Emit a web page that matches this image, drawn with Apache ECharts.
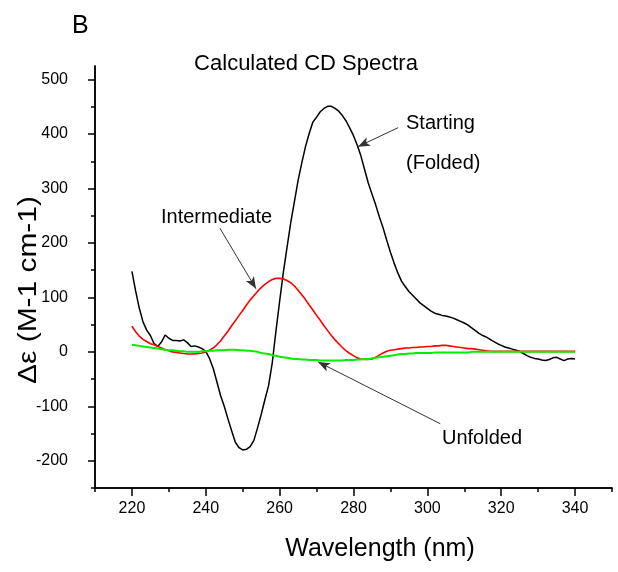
<!DOCTYPE html>
<html>
<head>
<meta charset="utf-8">
<script src="https://cdn.jsdelivr.net/npm/echarts@6/dist/echarts.min.js"></script>
<style>
html,body{margin:0;padding:0;background:#fff;}
#chart{width:618px;height:572px;}
</style>
</head>
<body>
<div id="chart"></div>
<script>
const wavelengths = [220,221,222,223,224,225,226,227,228,229,230,231,232,233,234,235,236,237,238,239,
240,241,242,243,244,245,246,247,248,249,250,251,252,253,254,255,256,257,258,259,
260,261,262,263,264,265,266,267,268,269,270,271,272,273,274,275,276,277,278,279,
280,281,282,283,284,285,286,287,288,289,290,291,292,293,294,295,296,297,298,299,
300,301,302,303,304,305,306,307,308,309,310,311,312,313,314,315,316,317,318,319,
320,321,322,323,324,325,326,327,328,329,330,331,332,333,334,335,336,337,338,339,340];

const starting = [148,112,80,55,40,30,15,10,18,31,25,21,21,20,22,17,10,11,9,6,
1,-12,-30,-55,-80,-100,-123,-145,-166,-176,-180,-179,-174,-163,-140,-115,-88,-62,-20,38,
93,146,192,237,276,315,347,377,401,422,431,441,447,451,451,447,442,434,424,411,
397,380,360,335,310,290,270,248,228,205,183,163,145,130,120,111,104,97,90,85,
80,75,71,69,67,66,64,62,59,56,53,49,44,39,34,30,27,23,19,15,
12,9,7,5,3,1,-3,-7,-10,-12,-13,-15,-16,-14,-11,-10,-13,-16,-13,-12,-13];

const intermediate = [47,37,29,23,19,15,13,10,7,4,2,0,-1,-2,-3,-4,-4,-4,-3,-2,
0,3,7,13,20,29,38,48,57,67,76,86,95,103,111,118,124,129,133,135,
135,134,131,127,121,113,105,96,86,77,67,58,48,39,30,22,15,8,2,-3,
-7,-11,-13,-14,-14,-13,-10,-6,-2,1,3,4,5,6,7,7,8,8,9,9,
10,10,11,11,12,12,11,10,9,8,7,6,6,5,4,3,2,1,1,1,
1,1,1,1,1,1,1,1,1,1,1,1,1,1,1,1,1,1,1,1,1];

const unfolded = [13,12,11,10,9,8,7,6,5,4,3,3,2,1,1,0,0,0,0,1,
1,2,2,3,3,3,4,4,4,3,3,2,2,1,0,-2,-3,-4,-6,-7,
-9,-10,-11,-12,-13,-13,-14,-14,-15,-15,-15,-16,-16,-16,-16,-16,-16,-16,-15,-15,
-15,-14,-14,-13,-13,-12,-11,-10,-9,-8,-7,-6,-5,-4,-4,-3,-3,-2,-2,-2,
-2,-2,-1,-1,-1,-1,-1,-1,-1,-1,-1,-1,0,0,0,0,0,0,0,0,
0,0,0,0,0,0,0,0,0,0,0,0,0,0,0,0,0,0,0,0,0];

const xMajorTicks = [220,240,260,280,300,320,340];
const xMinorTicks = [210,230,250,270,290,310,330,350];
const yMajorTicks = [-200,-100,0,100,200,300,400,500];
const yMinorTicks = [-250,-150,-50,50,150,250,350,450];

const FONT = "'Liberation Sans', Arial, sans-serif";

function pairs(vals){ return wavelengths.map((w,i)=>[w, vals[i]]); }

const chart = echarts.init(document.getElementById('chart'), null, {renderer:'canvas'});

const axisLine = {show:true, onZero:false, lineStyle:{color:'#000', width:1.5}};
function xAxis(ticks, len, labels){
  return {
    type:'value', min:210, max:350, gridIndex:0, position:'bottom',
    axisLine: axisLine,
    axisTick:{show:true, inside:false, length:len, customValues:ticks, lineStyle:{color:'#000', width:1.5}},
    axisLabel:{show:labels, customValues:ticks, margin:13, color:'#000', fontSize:16, fontFamily:FONT},
    splitLine:{show:false}, minorTick:{show:false}
  };
}
function yAxis(ticks, len, labels){
  return {
    type:'value', min:-250, max:525, gridIndex:0, position:'left',
    axisLine: axisLine,
    axisTick:{show:true, inside:false, length:len, customValues:ticks, lineStyle:{color:'#000', width:1.5}},
    axisLabel:{show:labels, customValues:ticks, margin:27, color:'#000', fontSize:16, fontFamily:FONT},
    splitLine:{show:false}, minorTick:{show:false}
  };
}

const arrowStyle = {color:'#333', width:1, type:'solid'};
function arrow(from, to){
  return [{coord:from, symbol:'none'}, {coord:to, symbol:'arrow', symbolSize:[7,12]}];
}

const option = {
  animation:false,
  backgroundColor:'#fff',
  grid:{left:95, right:6, top:66, bottom:84, containLabel:false},
  xAxis:[xAxis(xMajorTicks, 8, true), xAxis(xMinorTicks, 4, false)],
  yAxis:[yAxis(yMajorTicks, 7, true), yAxis(yMinorTicks, 4, false)],
  series:[
    {type:'line', name:'Starting', data:pairs(starting), showSymbol:false, xAxisIndex:0, yAxisIndex:0,
     lineStyle:{color:'#000', width:1.5}, itemStyle:{color:'#000'}, z:3,
     markLine:{silent:true, symbol:['none','arrow'], label:{show:false}, lineStyle:arrowStyle,
       emphasis:{disabled:true},
       data:[arrow([292.1,411.8],[281.2,376.8]), arrow([243.8,227.4],[253.6,115.8]), arrow([303.5,-132],[270.4,-18.4])]}},
    {type:'line', name:'Intermediate', data:pairs(intermediate), showSymbol:false, xAxisIndex:0, yAxisIndex:0,
     lineStyle:{color:'#ff0000', width:1.6}, itemStyle:{color:'#ff0000'}, z:4},
    {type:'line', name:'Unfolded', data:pairs(unfolded), showSymbol:false, xAxisIndex:0, yAxisIndex:0,
     lineStyle:{color:'#00ee00', width:2}, itemStyle:{color:'#00ee00'}, z:5}
  ],
  graphic:[
    {type:'text', left:72, top:14, style:{text:'B', font:'25px '+FONT, fill:'#000'}},
    {type:'text', x:306, y:64, style:{text:'Calculated CD Spectra', font:'22px '+FONT, fill:'#000', align:'center', verticalAlign:'middle'}},
    {type:'text', x:380, y:549, style:{text:'Wavelength (nm)', font:'25px '+FONT, fill:'#000', align:'center', verticalAlign:'middle'}},
    {type:'text', x:29, y:290, rotation:Math.PI/2, scaleX:1.15, style:{text:'\u0394\u03b5 (M-1 cm-1)', font:'26px '+FONT, fill:'#000', align:'center', verticalAlign:'middle'}},
    {type:'text', x:406, y:123, style:{text:'Starting', font:'20px '+FONT, fill:'#000', align:'left', verticalAlign:'middle'}},
    {type:'text', x:406, y:163, style:{text:'(Folded)', font:'20px '+FONT, fill:'#000', align:'left', verticalAlign:'middle'}},
    {type:'text', x:161, y:217, style:{text:'Intermediate', font:'20px '+FONT, fill:'#000', align:'left', verticalAlign:'middle'}},
    {type:'text', x:442, y:438, style:{text:'Unfolded', font:'20px '+FONT, fill:'#000', align:'left', verticalAlign:'middle'}}
  ]
};
chart.setOption(option);
</script>
</body>
</html>
